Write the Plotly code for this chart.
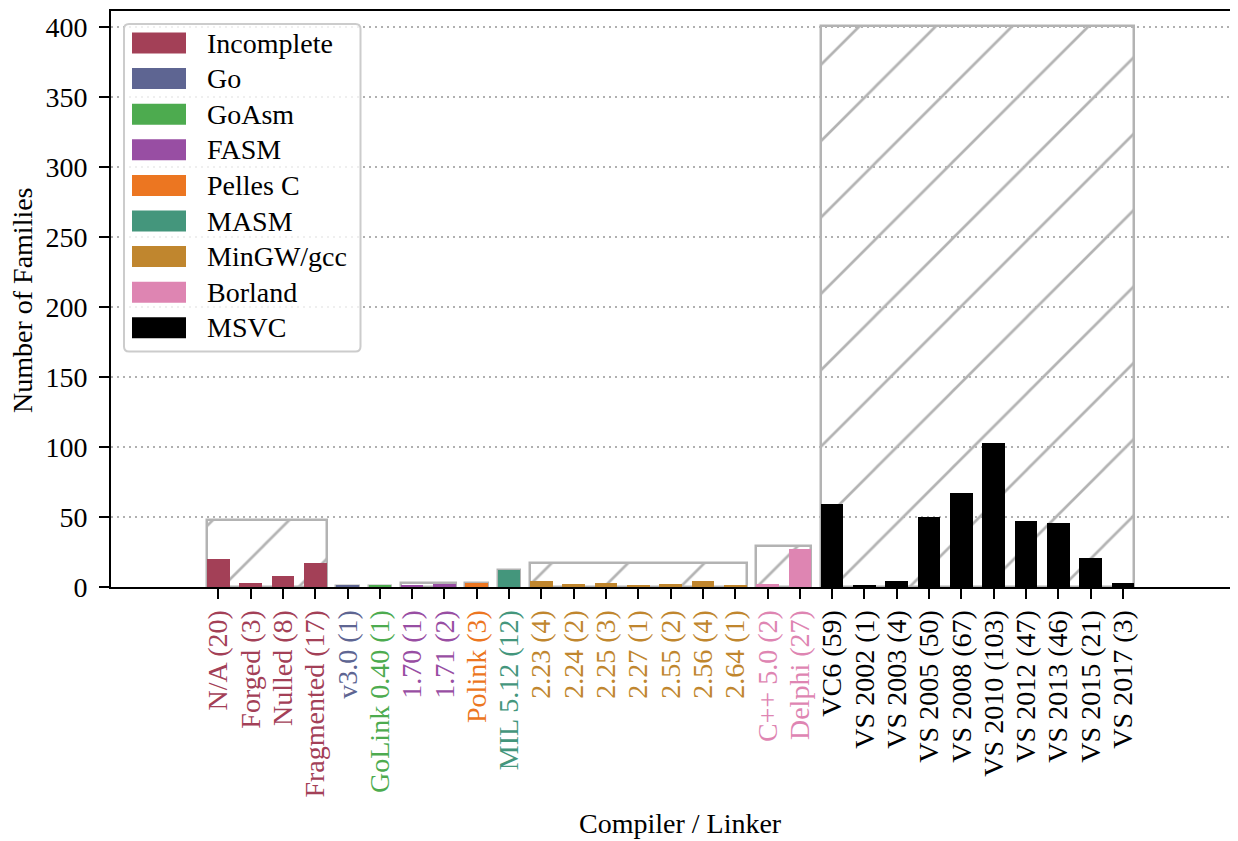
import plotly.graph_objects as go

# ---------------- data ----------------
group_names = ["Incomplete", "Go", "GoAsm", "FASM", "Pelles C", "MASM",
               "MinGW/gcc", "Borland", "MSVC"]
group_colors = ["#a34057", "#5e6592", "#4dab4f", "#984ea3", "#ec7621",
                "#44967c", "#c0862e", "#de85b2", "#000000"]
group_sizes = [4, 1, 1, 2, 1, 1, 7, 2, 10]

categories = ["N/A", "Forged", "Nulled", "Fragmented",
              "v3.0",
              "GoLink 0.40",
              "1.70", "1.71",
              "Polink",
              "MIL 5.12",
              "2.23", "2.24", "2.25", "2.27", "2.55", "2.56", "2.64",
              "C++ 5.0", "Delphi",
              "VC6", "VS 2002", "VS 2003", "VS 2005", "VS 2008", "VS 2010",
              "VS 2012", "VS 2013", "VS 2015", "VS 2017"]
counts = [20, 3, 8, 17,
          1,
          1,
          1, 2,
          3,
          12,
          4, 2, 3, 1, 2, 4, 1,
          2, 27,
          59, 1, 4, 50, 67, 103, 47, 46, 21, 3]

y_ticks = [0, 50, 100, 150, 200, 250, 300, 350, 400]

# ---------------- derived ----------------
FONT = "Liberation Serif"
FS = 28
BAR_W = 0.7
GRAY = "#b3b3b3"

cat_group = []
for gi, n in enumerate(group_sizes):
    cat_group += [gi] * n
xs = list(range(len(categories)))
bar_colors = [group_colors[g] for g in cat_group]
tick_text = [f'<span style="color:{group_colors[g]}">{c} ({v})</span>'
             for c, v, g in zip(categories, counts, cat_group)]

box_x, box_w, box_h = [], [], []
start = 0
for n in group_sizes:
    first, last = start, start + n - 1
    box_x.append((first + last) / 2)
    box_w.append(last - first + BAR_W)
    box_h.append(sum(counts[first:last + 1]))
    start += n

fig = go.Figure()
fig.add_trace(go.Bar(
    x=box_x, y=box_h, width=box_w,
    marker=dict(color="rgba(0,0,0,0)",
                line=dict(color=GRAY, width=2.5),
                pattern=dict(shape="/", size=54, solidity=0.05,
                             fgcolor=GRAY, bgcolor="rgba(0,0,0,0)",
                             fillmode="replace")),
    showlegend=False, hoverinfo="skip"))
fig.add_trace(go.Bar(
    x=xs, y=counts, width=BAR_W,
    marker=dict(color=bar_colors, line=dict(width=0)),
    showlegend=False))

# ---------------- layout (screen-pixel helpers) ----------------
OFF = 8                      # page body margin
W, H = 1238 - OFF, 841 - OFF
L, R, T, B = 111 - OFF, 0, 11 - OFF, 841 - 587
pw, ph = W - L - R, H - T - B


def px_x(p):                 # screen px -> paper
    return (p - OFF - L) / pw


def px_y(p):
    return (H - B - (p - OFF)) / ph


shapes = []
annotations = []

# manual legend
lx0, lx1, ly0, ly1 = 124, 360.5, 24, 351.5
r = 5
rx, ry = r / pw, r / ph
X0, X1, Y0, Y1 = px_x(lx0), px_x(lx1), px_y(ly1), px_y(ly0)
path = (f"M{X0+rx},{Y0} L{X1-rx},{Y0} Q{X1},{Y0} {X1},{Y0+ry} "
        f"L{X1},{Y1-ry} Q{X1},{Y1} {X1-rx},{Y1} L{X0+rx},{Y1} "
        f"Q{X0},{Y1} {X0},{Y1-ry} L{X0},{Y0+ry} Q{X0},{Y0} {X0+rx},{Y0} Z")
shapes.append(dict(type="path", path=path, xref="paper", yref="paper",
                   line=dict(color="#cccccc", width=2),
                   fillcolor="rgba(255,255,255,0.8)", layer="above"))
for i, (name, col) in enumerate(zip(group_names, group_colors)):
    cy = 43 + i * 35.6
    shapes.append(dict(type="rect", xref="paper", yref="paper",
                       x0=px_x(132), x1=px_x(186),
                       y0=px_y(cy + 10.5), y1=px_y(cy - 10.5),
                       fillcolor=col, line=dict(width=0), layer="above"))
    annotations.append(dict(text=name, xref="paper", yref="paper",
                            x=px_x(205), y=px_y(cy), xanchor="left",
                            yanchor="middle", showarrow=False,
                            font=dict(family=FONT, size=FS, color="black")))

annotations.append(dict(text="Compiler / Linker", xref="paper", yref="paper",
                        x=px_x(680), y=px_y(823), xanchor="center",
                        yanchor="middle", showarrow=False,
                        font=dict(family=FONT, size=FS, color="black")))
annotations.append(dict(text="Number of Families", xref="paper", yref="paper",
                        x=px_x(22), y=px_y(300), xanchor="center",
                        yanchor="middle", showarrow=False, textangle=-90,
                        font=dict(family=FONT, size=FS, color="black")))

fig.update_layout(
    width=W, height=H,
    margin=dict(l=L, r=R, t=T, b=B, pad=0),
    paper_bgcolor="white", plot_bgcolor="white",
    barmode="overlay", bargap=0,
    font=dict(family=FONT, size=FS, color="black"),
    shapes=shapes, annotations=annotations,
    showlegend=False,
    xaxis=dict(range=[-3.32, 31.56], tickmode="array", tickvals=xs,
               ticktext=tick_text, tickangle=-90,
               showline=True, linecolor="black", linewidth=2, mirror=True,
               ticks="outside", ticklen=10, tickwidth=2, tickcolor="black",
               showgrid=False, zeroline=False,
               tickfont=dict(family=FONT, size=FS)),
    yaxis=dict(range=[0, 411.4], tickmode="array", tickvals=y_ticks,
               showline=True, linecolor="black", linewidth=2,
               ticks="outside", ticklen=10, tickwidth=2, tickcolor="black",
               ticklabelstandoff=6,
               showgrid=True, gridcolor="#b0b0b0", gridwidth=1.5,
               griddash="2px,4px", zeroline=False,
               tickfont=dict(family=FONT, size=FS)),
)

fig.write_html("out.html")
